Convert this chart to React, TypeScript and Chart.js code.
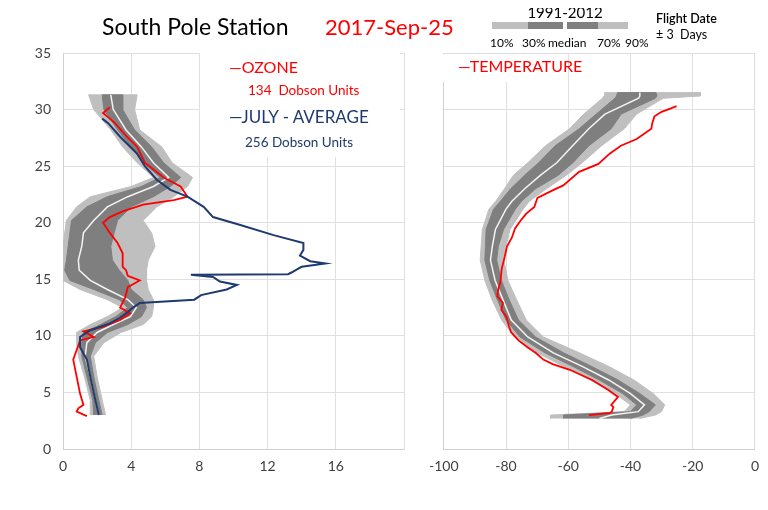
import React, { useEffect, useRef } from 'react';
import { Chart, registerables } from 'chart.js';

Chart.register(...registerables);

const FONT = 'Lato, "Open Sans", sans-serif';
const GRID = '#e0e0e0';
const LIGHT = '#bfbfbf';
const DARK = '#7f7f7f';
const RED = '#ff0000';
const NAVY = '#1f3a6e';

// ozone climatology 1991-2012 (mPa) by altitude (km)
const ozoneLevels = [3.0, 4.3, 6.4, 8.2, 9.4, 10.3, 11.0, 11.7, 12.5, 13.2, 14.1, 14.9, 15.8, 16.7, 17.9, 19.1, 20.2, 21.4, 22.3, 23.2, 24.0, 25.3, 26.7, 28.2, 30.0, 31.3];
const ozoneP10 = [1.6, 1.6, 1.25, 0.9, 0.8, 0.8, 1.6, 2.6, 3.5, 2.6, 1.0, 0.0, 0.0, 0.0, 0.0, 0.1, 0.2, 0.8, 1.6, 4.0, 5.3, 4.35, 3.5, 2.8, 1.8, 1.5];
const ozoneP30 = [1.8, 1.75, 1.4, 1.1, 1.1, 1.2, 2.2, 3.1, 3.8, 3.3, 1.8, 0.4, 0.1, 0.2, 0.3, 0.4, 0.5, 1.4, 2.6, 4.6, 5.7, 4.7, 4.0, 3.2, 2.4, 2.3];
const ozoneP50 = [2.1, 1.9, 1.6, 1.3, 1.4, 2.0, 2.95, 3.95, 4.3, 3.8, 2.6, 1.6, 0.95, 0.9, 1.1, 1.2, 1.8, 2.6, 3.8, 5.3, 6.2, 5.3, 4.6, 3.7, 2.95, 2.8];
const ozoneP70 = [2.3, 2.1, 1.8, 1.6, 1.9, 2.6, 3.8, 4.6, 4.9, 4.7, 4.0, 3.8, 3.3, 2.9, 2.8, 3.0, 3.2, 4.0, 5.3, 6.3, 6.9, 5.9, 5.2, 4.2, 3.5, 3.5];
const ozoneP90 = [2.5, 2.3, 2.0, 1.8, 2.4, 3.4, 4.7, 5.2, 5.3, 5.3, 5.0, 4.9, 4.9, 5.0, 5.4, 5.2, 4.7, 5.5, 6.5, 7.3, 7.6, 6.4, 5.8, 4.5, 4.2, 4.35];

// 2017-Sep-25 ozone sounding
const ozoneAlt = [2.9, 3.3, 3.6, 3.9, 4.9, 6.4, 7.9, 8.75, 9.6, 9.9, 10.4, 10.8, 11.4, 12.0, 12.5, 13.4, 14.3, 14.9, 15.3, 15.8, 16.1, 16.7, 17.3, 18.2, 19.1, 20.0, 20.5, 21.0, 21.6, 22.0, 22.3, 23.2, 24.0, 25.3, 26.7, 27.6, 28.8, 29.7, 30.2];
const ozoneVal = [1.4, 0.8, 0.9, 1.2, 1.0, 0.8, 0.6, 0.8, 1.0, 1.8, 1.2, 2.35, 3.35, 3.95, 3.35, 3.65, 3.8, 4.5, 3.8, 3.7, 3.5, 3.5, 3.5, 3.2, 2.75, 2.35, 2.75, 3.5, 4.7, 6.5, 7.3, 6.9, 5.9, 4.8, 4.35, 3.75, 3.05, 2.35, 2.75];

// July average ozone
const julyAlt = [3.0, 4.3, 6.4, 7.9, 9.0, 9.9, 10.5, 11.1, 11.6, 12.1, 12.5, 12.9, 13.2, 13.6, 14.1, 14.5, 14.8, 15.2, 15.4, 15.45, 15.6, 15.9, 16.1, 16.4, 16.6, 17.1, 17.6, 18.2, 18.9, 19.8, 20.5, 21.4, 22.3, 22.9, 23.8, 25.0, 26.1, 27.6, 28.8, 29.2];
const julyVal = [2.1, 1.9, 1.6, 1.4, 1.0, 1.0, 1.6, 2.75, 3.35, 3.8, 4.1, 4.5, 7.7, 8.1, 9.6, 10.2, 9.2, 8.8, 7.5, 13.2, 13.4, 13.75, 14.0, 15.4, 14.5, 13.9, 14.1, 14.1, 12.35, 10.4, 8.8, 8.25, 7.3, 6.3, 5.5, 4.8, 4.35, 3.35, 2.65, 2.3];

// temperature climatology 1991-2012 (C)
const tempLevels = [2.7, 3.0, 3.3, 3.9, 4.9, 6.1, 7.3, 8.5, 9.9, 11.4, 13.2, 14.9, 16.7, 17.9, 19.4, 21.2, 21.9, 23.0, 24.2, 25.3, 26.8, 28.3, 29.6, 31.0, 31.2, 31.5];
const tempP10 = [-65.7, -65.7, -42, -40, -45, -53, -61.5, -70, -77.3, -81.4, -84.5, -86.8, -88.3, -88.0, -87.6, -85.5, -83.3, -80.5, -77.6, -73, -67.3, -59.6, -55, -49, -48.5, -48.3];
const tempP30 = [-61.5, -61.5, -40, -38, -42.5, -50, -58.5, -67.5, -75.5, -80, -82.8, -85.2, -86.8, -86.6, -86.4, -84, -81.8, -78.5, -74, -69.5, -64.2, -56.5, -51, -45, -44.5, -44.1];
const tempP50 = [-50, -46, -37.5, -35.5, -40, -47, -55.5, -64.8, -73, -78.3, -81, -83.5, -85, -84.4, -83.4, -80, -78.1, -74, -68.9, -63.7, -58.6, -53.4, -48.2, -37.4, -37, -37];
const tempP70 = [-40, -36, -34, -32, -37, -44, -52.5, -61.5, -70.5, -76, -79, -81.5, -83, -82.5, -80.8, -77, -75, -70.5, -63.2, -58.5, -53.4, -46.2, -43, -32, -31.5, -31.8];
const tempP90 = [-37, -32, -30, -29, -32.7, -38.9, -47, -56.4, -68, -73.5, -76.6, -79.4, -80.7, -80.0, -78.7, -74.5, -72.5, -67, -60.6, -55.5, -49.3, -42, -38, -29.5, -17.5, -17.5];

// 2017-Sep-25 temperature sounding
const tempAlt = [3.0, 3.2, 3.3, 3.7, 3.9, 4.6, 5.2, 6.1, 7.0, 7.5, 7.9, 8.5, 9.0, 9.6, 10.3, 10.8, 11.7, 12.3, 12.9, 13.5, 14.1, 14.8, 15.9, 17.0, 17.9, 18.7, 19.5, 20.3, 20.8, 21.4, 22.2, 22.9, 23.3, 24.5, 25.2, 26.1, 26.8, 27.4, 28.3, 28.8, 29.4, 29.8, 30.1, 30.3];
const tempVal = [-53.3, -46.5, -46, -45.5, -46.2, -44, -47, -52.3, -59.5, -65, -68, -70.5, -73.1, -76, -78.3, -79, -79.9, -81.5, -81, -82.8, -82.5, -81.8, -81.4, -80.4, -79.7, -78.1, -77.1, -75, -73.5, -70.9, -69.9, -64.7, -61.6, -56.5, -50.3, -46.7, -43.1, -38, -33.3, -33, -32.3, -30, -27, -25.2];

const altTicks = { min: 0, max: 35, step: 5 };

function pts(xs: number[], ys: number[]) {
  return xs.map((x, i) => ({ x, y: ys[i] }));
}

// closed outline: lower edge going up, upper edge coming down
function band(levels: number[], lo: number[], hi: number[]) {
  const up = levels.map((a, i) => ({ x: lo[i], y: a }));
  const down = levels.map((a, i) => ({ x: hi[i], y: a })).reverse();
  return up.concat(down);
}

function area(data: any, color: string) {
  return { data, showLine: true, fill: 'shape', backgroundColor: color, borderColor: color, borderWidth: 1, pointRadius: 0 };
}

function line(data: any, color: string, width: number) {
  return { data, showLine: true, fill: false, borderColor: color, borderWidth: width, pointRadius: 0, tension: 0 };
}

function makeOptions(xMin: number, xMax: number, xStep: number, showY: boolean, yWidth: number, padRight: number, hideTick?: number) {
  const tickFont = { family: FONT, size: 14 };
  return {
    animation: false,
    responsive: false,
    layout: { padding: { top: 53, right: padRight, left: 0, bottom: 0 } },
    plugins: { legend: { display: false }, tooltip: { enabled: false } },
    scales: {
      x: {
        type: 'linear',
        min: xMin,
        max: xMax,
        ticks: {
          stepSize: xStep,
          padding: 9,
          font: tickFont,
          color: '#404040',
          callback: (v: number) => (v === hideTick ? '' : String(v)),
        },
        grid: { color: GRID, drawTicks: false },
        border: { color: '#d0d0d0' },
        afterFit: (s: any) => { s.height = 61; },
      },
      y: {
        type: 'linear',
        min: altTicks.min,
        max: altTicks.max,
        ticks: { stepSize: altTicks.step, padding: 12, font: tickFont, color: '#404040', display: showY },
        grid: { color: GRID, drawTicks: false },
        border: { color: '#d0d0d0' },
        afterFit: (s: any) => { s.width = yWidth; },
      },
    },
  };
}

function OzoneChart() {
  const ref = useRef<HTMLCanvasElement>(null);
  useEffect(() => {
    if (!ref.current) return;
    const chart = new Chart(ref.current, {
      type: 'scatter',
      data: {
        datasets: [
          line(pts(julyVal, julyAlt), NAVY, 2),
          line(pts(ozoneVal, ozoneAlt), RED, 1.8),
          line(pts(ozoneP50, ozoneLevels), '#f4f4f4', 1.5),
          area(band(ozoneLevels, ozoneP30, ozoneP70), DARK),
          area(band(ozoneLevels, ozoneP10, ozoneP90), LIGHT),
        ] as any,
      },
      options: makeOptions(0, 20, 4, true, 63, 16, 20) as any,
    });
    return () => chart.destroy();
  }, []);
  return <canvas ref={ref} width={420} height={510} style={{ position: 'absolute', left: 0, top: 0 }} />;
}

function TempChart() {
  const ref = useRef<HTMLCanvasElement>(null);
  useEffect(() => {
    if (!ref.current) return;
    const chart = new Chart(ref.current, {
      type: 'scatter',
      data: {
        datasets: [
          line(pts(tempVal, tempAlt), RED, 1.8),
          line(pts(tempP50, tempLevels), '#f4f4f4', 1.5),
          area(band(tempLevels, tempP30, tempP70), DARK),
          area(band(tempLevels, tempP10, tempP90), LIGHT),
        ] as any,
      },
      options: makeOptions(-100, 0, 20, false, 17, 6) as any,
    });
    return () => chart.destroy();
  }, []);
  return <canvas ref={ref} width={348} height={510} style={{ position: 'absolute', left: 420, top: 0 }} />;
}

function Text(props: { x: number; y: number; size: number; color?: string; weight?: number; children: any }) {
  return (
    <div
      style={{
        position: 'absolute',
        left: props.x,
        top: props.y,
        fontSize: props.size,
        lineHeight: 1,
        color: props.color || '#000',
        fontWeight: props.weight || 400,
        whiteSpace: 'pre',
      }}
    >
      {props.children}
    </div>
  );
}

export default function App() {
  return (
    <div style={{ position: 'relative', width: 768, height: 510, margin: -8, overflow: 'hidden', background: '#fff', fontFamily: FONT }}>
      <OzoneChart />
      <TempChart />

      {/* legend boxes */}
      <div style={{ position: 'absolute', left: 200, top: 50, width: 200, height: 107, background: '#fff' }} />
      <div style={{ position: 'absolute', left: 440, top: 54, width: 122, height: 28, background: '#fff' }} />

      <Text x={102} y={15} size={23}>South Pole Station</Text>
      <Text x={325} y={15.5} size={22} color={RED}>2017-Sep-25</Text>

      <Text x={229} y={59} size={16} color={RED}>—OZONE</Text>
      <Text x={248} y={84} size={13.5} color={RED}>134  Dobson Units</Text>
      <Text x={229} y={108} size={17} color={NAVY}>—JULY - AVERAGE</Text>
      <Text x={245} y={136} size={13.5} color={NAVY}>256 Dobson Units</Text>

      <Text x={458} y={58} size={16} color={RED}>—TEMPERATURE</Text>

      {/* percentile key */}
      <div style={{ position: 'absolute', left: 515, top: 5, width: 100, textAlign: 'center', fontSize: 15, lineHeight: 1 }}>1991-2012</div>
      <div style={{ position: 'absolute', left: 492, top: 22, width: 136, height: 7, background: LIGHT }} />
      <div style={{ position: 'absolute', left: 528, top: 22, width: 35, height: 7, background: DARK }} />
      <div style={{ position: 'absolute', left: 563, top: 22, width: 4, height: 7, background: '#fff' }} />
      <div style={{ position: 'absolute', left: 567, top: 22, width: 31, height: 7, background: DARK }} />
      <Text x={490} y={37} size={12}>10%</Text>
      <Text x={522} y={37} size={12}>30%</Text>
      <Text x={548} y={37} size={12}>median</Text>
      <Text x={597} y={37} size={12}>70%</Text>
      <Text x={625} y={37} size={12}>90%</Text>

      <Text x={656} y={13} size={12.5} weight={600}>Flight Date</Text>
      <Text x={656} y={29} size={12.5}>± 3  Days</Text>
    </div>
  );
}
